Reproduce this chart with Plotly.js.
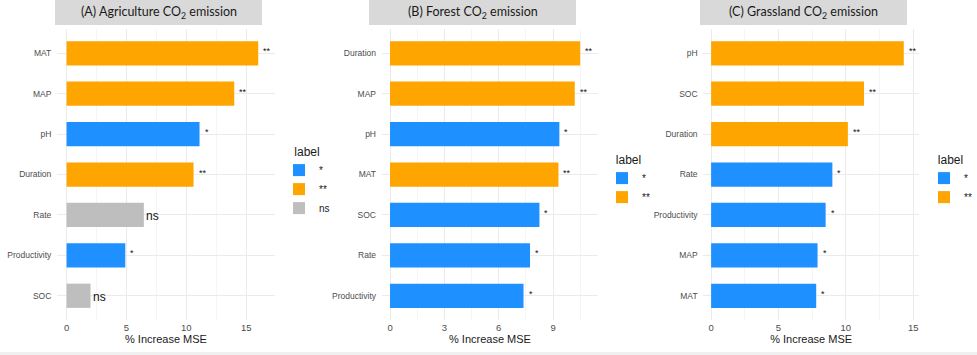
<!DOCTYPE html>
<html>
<head>
<meta charset="utf-8">
<script src="https://cdn.plot.ly/plotly-3.0.1.min.js"></script>
<style>html,body{margin:0;padding:0;background:#fff;overflow:hidden;}#chart{width:977px;height:355px;}</style>
</head>
<body>
<div id="chart"></div>
<script>
// ---- data ----
const panelTitles = ['(A) Agriculture CO<sub>2</sub> emission', '(B) Forest CO<sub>2</sub> emission', '(C) Grassland CO<sub>2</sub> emission'];

const agriVars = ['MAT', 'MAP', 'pH', 'Duration', 'Rate', 'Productivity', 'SOC'];
const agriVals = [16.0, 14.0, 11.1, 10.6, 6.45, 4.9, 2.0];
const agriSig  = ['**', '**', '*', '**', 'ns', '*', 'ns'];

const forestVars = ['Duration', 'MAP', 'pH', 'MAT', 'SOC', 'Rate', 'Productivity'];
const forestVals = [10.5, 10.2, 9.35, 9.3, 8.25, 7.73, 7.37];
const forestSig  = ['**', '**', '*', '**', '*', '*', '*'];

const grassVars = ['pH', 'SOC', 'Duration', 'Rate', 'Productivity', 'MAP', 'MAT'];
const grassVals = [14.3, 11.35, 10.15, 9.0, 8.5, 7.9, 7.8];
const grassSig  = ['**', '**', '**', '*', '*', '*', '*'];

const xTicksA = [0, 5, 10, 15];
const xTicksB = [0, 3, 6, 9];
const xTicksC = [0, 5, 10, 15];

const sigLevels = ['*', '**', 'ns'];
const sigColors = {'*': '#1E90FF', '**': '#FFA500', 'ns': '#BEBEBE'};

// ---- layout geometry ----
const W = 977, H = 355;
const panels = [
  {vars: agriVars, vals: agriVals, sig: agriSig, ticks: xTicksA, minor: 2.5,
   px: [57, 275], range: [-0.8, 17.4], strip: [55, 262], leg: {x: 279, y: 140, anchor: 'left'}},
  {vars: forestVars, vals: forestVals, sig: forestSig, ticks: xTicksB, minor: 1.5,
   px: [381.7, 598.3], range: [-0.46, 11.5], strip: [369, 576], leg: {x: 602, y: 148, anchor: 'left'}},
  {vars: grassVars, vals: grassVals, sig: grassSig, ticks: xTicksC, minor: 2.5,
   px: [703.3, 919], range: [-0.58, 15.43], strip: [700, 907], leg: {x: 977, y: 148, anchor: 'right'}}
];
const yDom = [(H - 320) / H, (H - 29) / H];

const traces = [];
const annotations = [];
const shapes = [];
const layout = {
  width: W, height: H,
  margin: {l: 0, r: 0, t: 0, b: 0, autoexpand: false},
  paper_bgcolor: '#ffffff', plot_bgcolor: '#ffffff',
  barmode: 'overlay',
  font: {family: 'Liberation Sans, Arial, sans-serif', color: '#4d4d4d'},
  annotations: annotations, shapes: shapes
};

panels.forEach((p, i) => {
  const n = i === 0 ? '' : String(i + 1);
  const xa = 'x' + n, ya = 'y' + n;
  const legName = 'legend' + n;
  sigLevels.forEach(lv => {
    const idx = p.sig.map((s, k) => s === lv ? k : -1).filter(k => k >= 0);
    if (!idx.length) return;
    traces.push({
      type: 'bar', orientation: 'h',
      x: idx.map(k => p.vals[k]), y: idx.map(k => p.vars[k]),
      width: 0.6, name: lv, legend: legName,
      marker: {color: sigColors[lv], line: {width: 0}},
      xaxis: xa, yaxis: ya, hoverinfo: 'x+y'
    });
  });
  p.vars.forEach((v, k) => {
    const isNs = p.sig[k] === 'ns';
    annotations.push({
      xref: xa, yref: ya, x: p.vals[k], y: v, text: p.sig[k],
      showarrow: false, xanchor: 'left', yanchor: 'middle',
      xshift: isNs ? 0 : 3, yshift: isNs ? -1 : 2,
      font: {size: isNs ? 12 : 9, color: '#111111', family: 'Liberation Sans, Arial, sans-serif'}
    });
  });
  layout['xaxis' + n] = {
    domain: [p.px[0] / W, p.px[1] / W], range: p.range, anchor: ya,
    tickvals: p.ticks, ticks: '', showline: false, zeroline: false,
    showgrid: true, gridcolor: '#ebebeb', gridwidth: 1,
    minor: {showgrid: true, dtick: p.minor, tick0: 0, gridcolor: '#f5f5f5', gridwidth: 1},
    tickfont: {size: 9.5, color: '#4d4d4d'},
    title: {text: '% Increase MSE', font: {size: 11, color: '#1a1a1a'}, standoff: 3},
    automargin: false, fixedrange: true
  };
  layout['yaxis' + n] = {
    domain: yDom, anchor: xa, type: 'category',
    categoryorder: 'array', categoryarray: p.vars,
    range: [p.vars.length - 0.4, -0.6],
    ticks: 'outside', ticklen: 3, tickcolor: 'rgba(0,0,0,0)',
    showline: false, zeroline: false,
    showgrid: true, gridcolor: '#ebebeb', gridwidth: 1,
    tickfont: {size: 8.5, color: '#4d4d4d'},
    automargin: false, fixedrange: true
  };
  layout[legName] = {
    x: p.leg.x / W, y: (H - p.leg.y) / H, xanchor: p.leg.anchor, yanchor: 'top',
    bgcolor: 'rgba(0,0,0,0)', borderwidth: 0,
    font: {size: 10, color: '#1a1a1a'},
    title: {text: 'label', side: 'top center', font: {size: 12, color: '#1a1a1a'}},
    itemwidth: 30, tracegroupgap: 0, traceorder: 'normal'
  };
  shapes.push({
    type: 'rect', xref: 'paper', yref: 'paper', layer: 'below',
    x0: p.strip[0] / W, x1: p.strip[1] / W, y0: (H - 25) / H, y1: 1,
    fillcolor: '#d9d9d9', line: {width: 0}
  });
  annotations.push({
    xref: 'paper', yref: 'paper', x: (p.strip[0] + p.strip[1]) / 2 / W, y: (H - 12.5) / H,
    xanchor: 'center', yanchor: 'middle', showarrow: false, text: panelTitles[i],
    font: {size: 12.5, color: '#1a1a1a', family: 'Lato, Open Sans, sans-serif'}
  });
});
shapes.push({
  type: 'rect', xref: 'paper', yref: 'paper', layer: 'below',
  x0: 0, x1: 1, y0: 0, y1: 3 / H, fillcolor: '#f0f0f0', line: {width: 0}
});

Plotly.newPlot('chart', traces, layout, {displayModeBar: false, staticPlot: true});
</script>
</body>
</html>
